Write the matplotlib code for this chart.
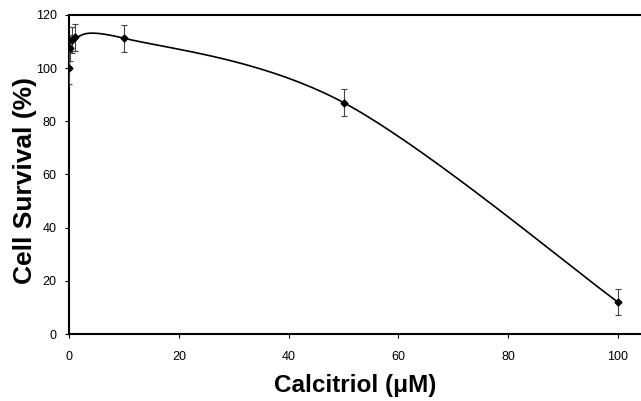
import numpy as np
import matplotlib
matplotlib.use("Agg")
import matplotlib.pyplot as plt

conc = [0, 0.1, 0.5, 1, 10, 50, 100]
survival = [100, 107.5, 110.5, 111.5, 111.2, 87, 12]
err = [6, 5, 5, 5, 5, 5, 5]

xticks = [0, 20, 40, 60, 80, 100]
yticks = [0, 20, 40, 60, 80, 100, 120]


def excel_smooth(xs, ys, n=40):
    """Bezier smoothing like a spreadsheet 'smoothed line'."""
    p = np.column_stack([xs, ys]).astype(float)
    out = []
    for i in range(len(p) - 1):
        p0 = p[i - 1] if i > 0 else p[i]
        p1, p2 = p[i], p[i + 1]
        p3 = p[i + 2] if i + 2 < len(p) else p[i + 1]
        c1 = p1 + (p2 - p0) / 6
        c2 = p2 - (p3 - p1) / 6
        t = np.linspace(0, 1, n)[:, None]
        seg = ((1 - t) ** 3) * p1 + 3 * ((1 - t) ** 2) * t * c1 \
            + 3 * (1 - t) * t ** 2 * c2 + t ** 3 * p2
        out.append(seg)
    seg = np.vstack(out)
    return seg[:, 0], seg[:, 1]


plt.rcParams['font.family'] = ['Liberation Sans', 'DejaVu Sans']

fig = plt.figure(figsize=(6.41, 4.01), dpi=100)
ax = fig.add_axes([0.108, 0.167, 0.892, 0.796])

sx, sy = excel_smooth(conc, survival)
ax.plot(sx, sy, color='black', lw=1.2, zorder=2)
ax.errorbar(conc, survival, yerr=err, fmt='D', color='black', ms=3.5,
            ecolor='#444444', elinewidth=0.8, capsize=2.5, capthick=0.8, zorder=3)

ax.set_xlim(0, 104.2)
ax.set_ylim(0, 120)
ax.set_xticks(xticks)
ax.set_yticks(yticks)
ax.tick_params(labelsize=9, length=3, width=0.8, direction='out')
ax.tick_params(axis='x', pad=9)
ax.tick_params(axis='y', pad=6)
ax.spines['right'].set_visible(False)
for s in ['left', 'bottom', 'top']:
    ax.spines[s].set_linewidth(1.5)

ax.set_xlabel('Calcitriol (μM)', fontsize=17.5, fontweight='bold', labelpad=8)
ax.set_ylabel('Cell Survival (%)', fontsize=19, fontweight='bold', labelpad=-1)
ax.yaxis.label.set_y(0.48)

fig.savefig('out.png', dpi=100)
